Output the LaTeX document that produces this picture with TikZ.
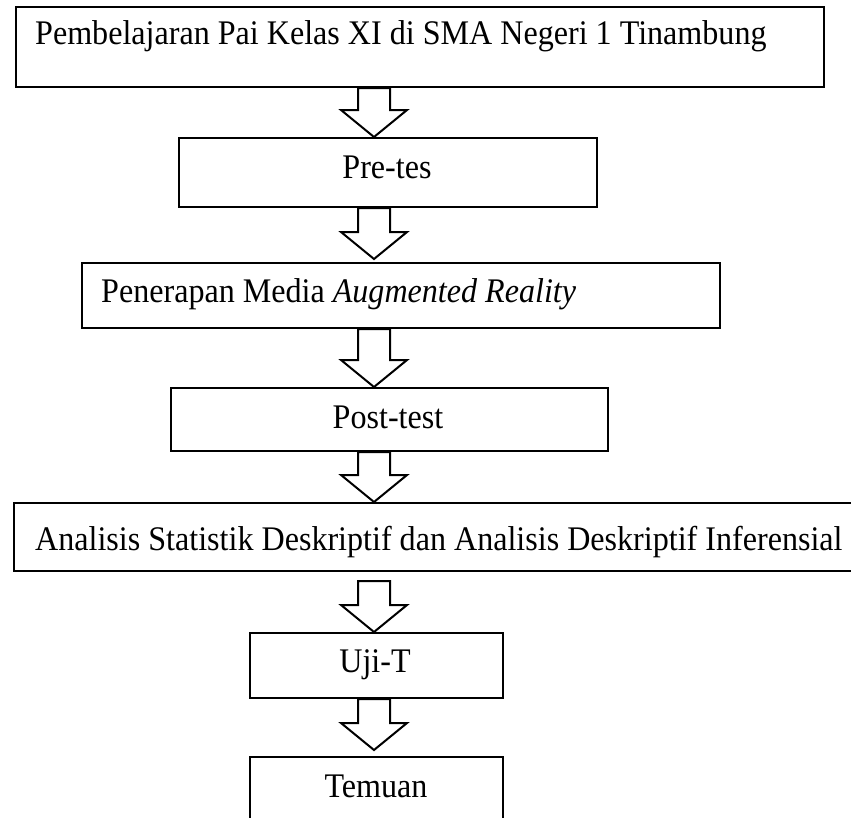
\documentclass[tikz,border=0pt]{standalone}
\usepackage{fontspec}
\setmainfont[FakeStretch=0.93]{Liberation Serif}
\usetikzlibrary{calc}

% hollow block arrow from a start point down to a tip
\newcommand{\hollowarrow}[2]{%
  \draw[line width=2bp] ($(#1)+(-16,0)$) -- ($(#2)+(-16,-27)$) -- ($(#2)+(-33,-27)$) -- (#2)
    -- ($(#2)+(33,-27)$) -- ($(#2)+(16,-27)$) -- ($(#1)+(16,0)$) -- cycle;}

\begin{document}
\begin{tikzpicture}[x=1bp,y=-1bp]
        \tikzstyle{box}=[draw, line width=2bp, rectangle, inner sep=0pt, anchor=north west]
        \tikzstyle{txt}=[font=\fontsize{34.5bp}{40bp}\selectfont, inner sep=0pt]
        \useasboundingbox (0,0) rectangle (851,818);
        % boxes
        \node[box, minimum width=808bp, minimum height=80bp] (b1) at (15,6) {};
        \node[box, minimum width=418bp, minimum height=69bp] (b2) at (178,137) {};
        \node[box, minimum width=638bp, minimum height=65bp] (b3) at (81,262) {};
        \node[box, minimum width=437bp, minimum height=63bp] (b4) at (170,387) {};
        \node[box, minimum width=842bp, minimum height=68bp] (b5) at (13,502) {};
        \node[box, minimum width=253bp, minimum height=65bp] (b6) at (249,632) {};
        \node[box, minimum width=253bp, minimum height=75bp] (b7) at (249,756) {};
        % texts
        \node[txt, anchor=base west] (t1) at (35,45) {Pembelajaran Pai Kelas XI di SMA Negeri 1 Tinambung};
        \node[txt, anchor=base] (t2) at (387,178) {Pre-tes};
        \node[txt, anchor=base west] (t3) at (101,302) {Penerapan Media \textit{Augmented Reality}};
        \node[txt, anchor=base] (t4) at (388,428) {Post-test};
        \node[txt, anchor=base west] (t5) at (35,550) {Analisis Statistik Deskriptif dan Analisis Deskriptif Inferensial};
        \node[txt, anchor=base] (t6) at (375,672) {Uji-T};
        \node[txt, anchor=base] (t7) at (376,797) {Temuan};
        % arrows
        \coordinate (ax) at (374,0);
        \coordinate (a1s) at (ax |- b1.south);
        \coordinate (a1t) at (ax |- b2.north);
        \coordinate (a2s) at (ax |- b2.south);
        \coordinate (a2t) at ($(ax |- b3.north)+(0,-3)$);
        \coordinate (a3s) at (ax |- b3.south);
        \coordinate (a3t) at (ax |- b4.north);
        \coordinate (a4s) at (ax |- b4.south);
        \coordinate (a4t) at (ax |- b5.north);
        \coordinate (a5s) at ($(ax |- b5.south)+(0,9)$);
        \coordinate (a5t) at (ax |- b6.north);
        \coordinate (a6s) at (ax |- b6.south);
        \coordinate (a6t) at ($(ax |- b7.north)+(0,-6)$);
        \hollowarrow{a1s}{a1t}
        \hollowarrow{a2s}{a2t}
        \hollowarrow{a3s}{a3t}
        \hollowarrow{a4s}{a4t}
        \hollowarrow{a5s}{a5t}
        \hollowarrow{a6s}{a6t}
\end{tikzpicture}
\end{document}
